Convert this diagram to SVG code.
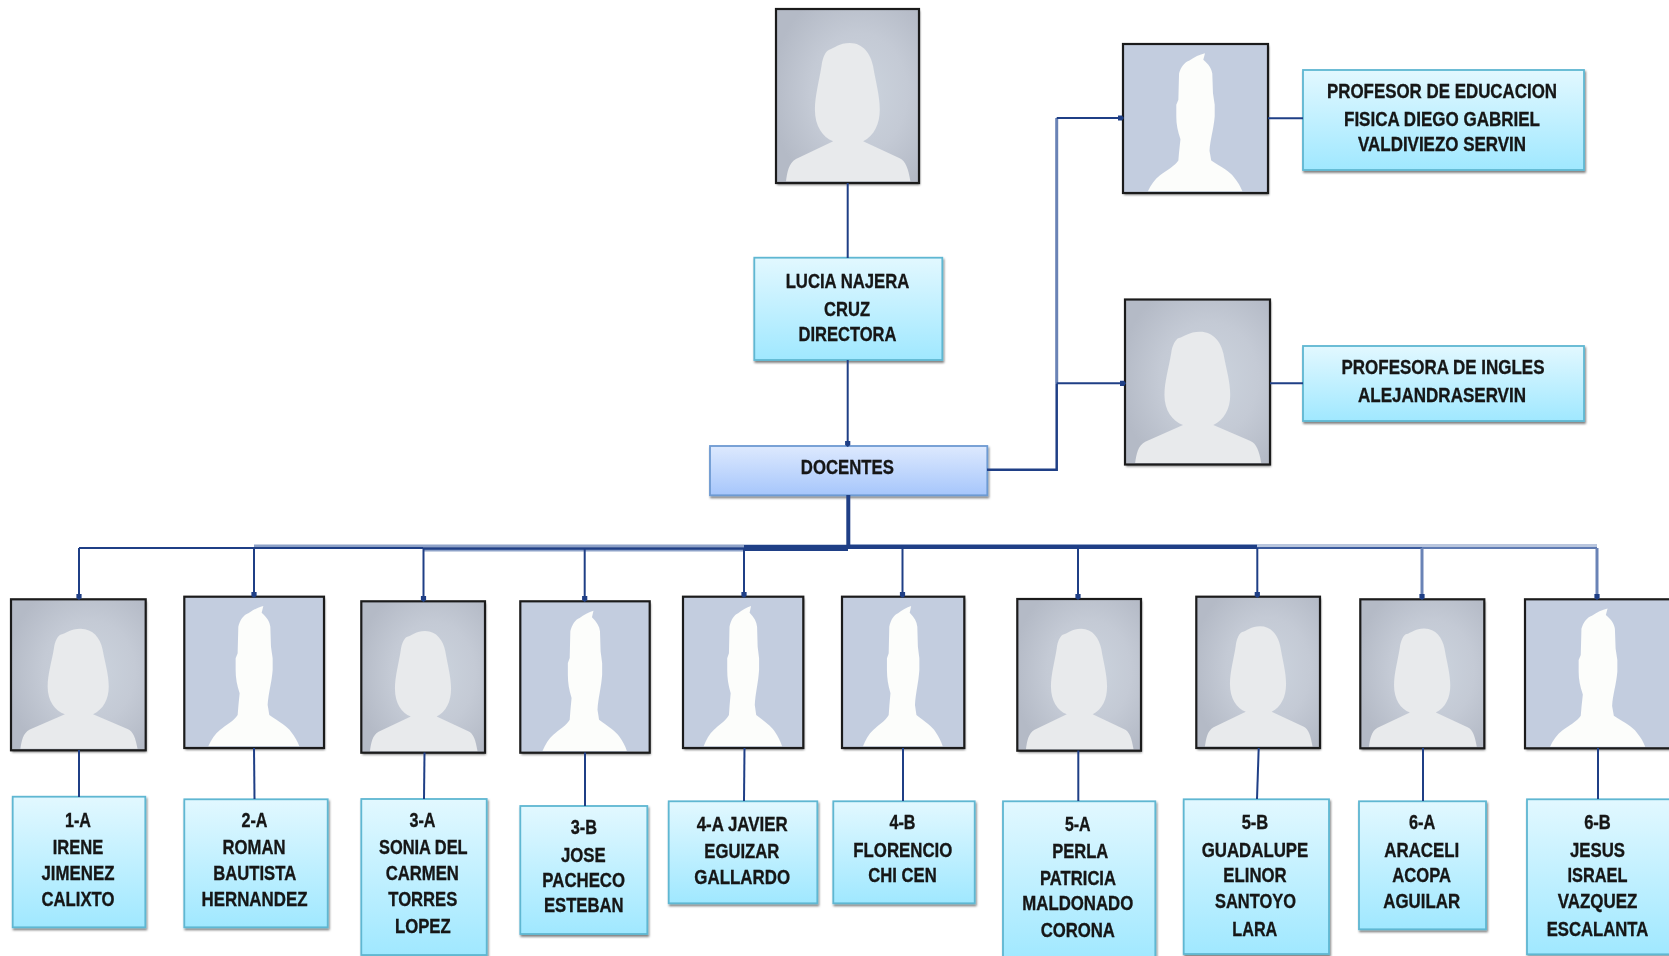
<svg xmlns="http://www.w3.org/2000/svg" width="1669" height="956" viewBox="0 0 1669 956">
<style>
.c{fill:none;stroke:#1f3f86;stroke-width:2}
.a{marker-end:url(#ah)}
.pale{stroke:#6a83b6;stroke-width:3}
.halo{fill:none;stroke:#8ea2c8;stroke-width:3}
.halo2{fill:none;stroke:#b9c6de;stroke-width:3}
.frame{fill:none;stroke:#1b1b1b;stroke-width:2.200}
.box{fill:url(#bg);stroke:#5fb7d2;stroke-width:1.800;filter:url(#s)}
.boxb{fill:url(#bb);stroke:#6d9ad2;stroke-width:1.800;filter:url(#s)}
.shade{fill:#fff;filter:url(#s)}
text{font-family:"Liberation Sans",Arial,sans-serif;font-size:21px;font-weight:bold;fill:#141414;stroke:#141414;stroke-width:.35px;text-anchor:middle;filter:url(#t);transform:translateY(-.8px)}
</style>
<defs>
<filter id="s" x="-10%" y="-10%" width="120%" height="120%"><feDropShadow dx="1" dy="2" stdDeviation="1.300" flood-color="#000" flood-opacity=".5"/></filter>
<filter id="t" x="-5%" y="-20%" width="110%" height="140%"><feGaussianBlur stdDeviation=".55"/></filter>
<filter id="sb"><feGaussianBlur stdDeviation=".9"/></filter>
<linearGradient id="bg" x1="0" y1="0" x2="0" y2="1"><stop offset="0" stop-color="#e2f8ff"/><stop offset="1" stop-color="#a0e8ff"/></linearGradient>
<linearGradient id="bb" x1="0" y1="0" x2="0" y2="1"><stop offset="0" stop-color="#dde9fe"/><stop offset="1" stop-color="#a6c6fb"/></linearGradient>
<radialGradient id="fg" cx=".58" cy=".48" r=".62"><stop offset="0" stop-color="#ccd4de"/><stop offset=".55" stop-color="#c4cad5"/><stop offset="1" stop-color="#b4bac6"/></radialGradient>
<marker id="ah" markerUnits="userSpaceOnUse" markerWidth="8" markerHeight="8" viewBox="-4 -4 8 8" refX="2" refY="0" orient="auto"><path d="M-3 -2.600L1 -2.600L3 0L1 2.600L-3 2.600Z" fill="#1f3f86"/></marker>
<symbol id="fem" viewBox="0 0 430 522" preserveAspectRatio="none">
<rect width="430" height="522" fill="url(#fg)"/>
<path filter="url(#sb)" fill="#e8eaec" d="M160 122C175 118 190 102 222 102C262 102 285 135 292 172C300 220 312 260 312 302C312 345 295 380 262 397L372 448C390 456 398 480 404 517L30 517C34 490 38 462 60 450L172 397C140 385 117 350 117 302C117 260 130 215 137 170C140 145 150 125 160 122Z"/>
</symbol>
<symbol id="mal" viewBox="0 0 419 454" preserveAspectRatio="none">
<rect width="419" height="454" fill="#c3cddf"/>
<path filter="url(#sb)" fill="#fcfdfb" d="M237 28L232 48C248 62 256 75 258 90L260 150L265 185L265 220C262 260 252 290 250 325L255 355C285 375 310 390 320 405C332 420 340 435 345 449L72 449C80 430 92 412 107 400C125 385 150 372 160 355L162 330L166 290C158 265 154 245 154 220L154 185L160 170L162 90C167 70 178 55 192 50C205 40 222 32 237 28Z"/>
</symbol>
</defs>
<rect width="1669" height="956" fill="#fff"/>

<g id="portrait-directora"><rect class="shade" x="776" y="9" width="143" height="174"/><use href="#fem" x="776" y="9" width="143" height="174"/><rect class="frame" x="776" y="9" width="143" height="174"/></g>
<g id="portrait-educacion"><rect class="shade" x="1123" y="44" width="145" height="149"/><use href="#mal" x="1123" y="44" width="145" height="149"/><rect class="frame" x="1123" y="44" width="145" height="149"/></g>
<g id="portrait-ingles"><rect class="shade" x="1125" y="299.500" width="145" height="165"/><use href="#fem" x="1125" y="299.500" width="145" height="165"/><rect class="frame" x="1125" y="299.500" width="145" height="165"/></g>
<g id="portrait-1a"><rect class="shade" x="11" y="599.300" width="134.700" height="151"/><use href="#fem" x="11" y="599.300" width="134.700" height="151"/><rect class="frame" x="11" y="599.300" width="134.700" height="151"/></g>
<g id="portrait-2a"><rect class="shade" x="184.300" y="596.700" width="139.700" height="151.300"/><use href="#mal" x="184.300" y="596.700" width="139.700" height="151.300"/><rect class="frame" x="184.300" y="596.700" width="139.700" height="151.300"/></g>
<g id="portrait-3a"><rect class="shade" x="361.300" y="601.300" width="123.700" height="151.400"/><use href="#fem" x="361.300" y="601.300" width="123.700" height="151.400"/><rect class="frame" x="361.300" y="601.300" width="123.700" height="151.400"/></g>
<g id="portrait-3b"><rect class="shade" x="520.300" y="601.300" width="129.400" height="151.400"/><use href="#mal" x="520.300" y="601.300" width="129.400" height="151.400"/><rect class="frame" x="520.300" y="601.300" width="129.400" height="151.400"/></g>
<g id="portrait-4a"><rect class="shade" x="683" y="596.700" width="120.300" height="151.300"/><use href="#mal" x="683" y="596.700" width="120.300" height="151.300"/><rect class="frame" x="683" y="596.700" width="120.300" height="151.300"/></g>
<g id="portrait-4b"><rect class="shade" x="842" y="596.700" width="122.300" height="151.300"/><use href="#mal" x="842" y="596.700" width="122.300" height="151.300"/><rect class="frame" x="842" y="596.700" width="122.300" height="151.300"/></g>
<g id="portrait-5a"><rect class="shade" x="1017.300" y="599" width="123.700" height="151.700"/><use href="#fem" x="1017.300" y="599" width="123.700" height="151.700"/><rect class="frame" x="1017.300" y="599" width="123.700" height="151.700"/></g>
<g id="portrait-5b"><rect class="shade" x="1196.300" y="596.700" width="123.700" height="151.300"/><use href="#fem" x="1196.300" y="596.700" width="123.700" height="151.300"/><rect class="frame" x="1196.300" y="596.700" width="123.700" height="151.300"/></g>
<g id="portrait-6a"><rect class="shade" x="1360.300" y="599.300" width="124" height="149"/><use href="#fem" x="1360.300" y="599.300" width="124" height="149"/><rect class="frame" x="1360.300" y="599.300" width="124" height="149"/></g>
<g id="portrait-6b"><rect class="shade" x="1525" y="599.300" width="150" height="149"/><use href="#mal" x="1525" y="599.300" width="146" height="149"/><rect class="frame" x="1525" y="599.300" width="150" height="149"/></g>

<g id="node-directora"><rect class="box" x="754.300" y="257.700" width="188" height="102.300"/>
<text x="847.500" y="289" textLength="123.700" lengthAdjust="spacingAndGlyphs">LUCIA NAJERA</text>
<text x="847" y="316.700" textLength="46" lengthAdjust="spacingAndGlyphs">CRUZ</text>
<text x="847.500" y="342.300" textLength="98" lengthAdjust="spacingAndGlyphs">DIRECTORA</text></g>
<g id="node-docentes"><rect class="boxb" x="710" y="446" width="277.300" height="49.300"/>
<text x="847.300" y="475" textLength="93" lengthAdjust="spacingAndGlyphs">DOCENTES</text></g>
<g id="node-educacion"><rect class="box" x="1303" y="70" width="281" height="100"/>
<text x="1442" y="99" textLength="230" lengthAdjust="spacingAndGlyphs">PROFESOR DE EDUCACION</text>
<text x="1442" y="126.700" textLength="196" lengthAdjust="spacingAndGlyphs">FISICA DIEGO GABRIEL</text>
<text x="1442" y="152.300" textLength="168" lengthAdjust="spacingAndGlyphs">VALDIVIEZO SERVIN</text></g>
<g id="node-ingles"><rect class="box" x="1303" y="346" width="281" height="75"/>
<text x="1443" y="375" textLength="203" lengthAdjust="spacingAndGlyphs">PROFESORA DE INGLES</text>
<text x="1442" y="402.700" textLength="168" lengthAdjust="spacingAndGlyphs">ALEJANDRASERVIN</text></g>
<g id="node-1a"><rect class="box" x="12.700" y="796.700" width="132.600" height="130.600"/>
<text x="78" y="828" textLength="26" lengthAdjust="spacingAndGlyphs">1-A</text>
<text x="78" y="855.300" textLength="50.600" lengthAdjust="spacingAndGlyphs">IRENE</text>
<text x="78" y="881" textLength="73" lengthAdjust="spacingAndGlyphs">JIMENEZ</text>
<text x="78" y="906.700" textLength="73" lengthAdjust="spacingAndGlyphs">CALIXTO</text></g>
<g id="node-2a"><rect class="box" x="184.300" y="799.300" width="143.400" height="128"/>
<text x="254.500" y="828" textLength="26" lengthAdjust="spacingAndGlyphs">2-A</text>
<text x="254" y="855.300" textLength="63" lengthAdjust="spacingAndGlyphs">ROMAN</text>
<text x="254.700" y="881" textLength="83" lengthAdjust="spacingAndGlyphs">BAUTISTA</text>
<text x="254.500" y="906.700" textLength="106" lengthAdjust="spacingAndGlyphs">HERNANDEZ</text></g>
<g id="node-3a"><rect class="box" x="361.300" y="799" width="125.400" height="156"/>
<text x="422.500" y="828" textLength="26" lengthAdjust="spacingAndGlyphs">3-A</text>
<text x="423.300" y="855.300" textLength="88.700" lengthAdjust="spacingAndGlyphs">SONIA DEL</text>
<text x="422.300" y="881" textLength="73.300" lengthAdjust="spacingAndGlyphs">CARMEN</text>
<text x="422.800" y="906.700" textLength="69" lengthAdjust="spacingAndGlyphs">TORRES</text>
<text x="422.800" y="934.300" textLength="55.700" lengthAdjust="spacingAndGlyphs">LOPEZ</text></g>
<g id="node-3b"><rect class="box" x="520.300" y="806" width="127" height="128"/>
<text x="583.800" y="835" textLength="26.300" lengthAdjust="spacingAndGlyphs">3-B</text>
<text x="583.300" y="862.700" textLength="44.700" lengthAdjust="spacingAndGlyphs">JOSE</text>
<text x="583.700" y="887.700" textLength="82.700" lengthAdjust="spacingAndGlyphs">PACHECO</text>
<text x="583.800" y="913.300" textLength="79.700" lengthAdjust="spacingAndGlyphs">ESTEBAN</text></g>
<g id="node-4a"><rect class="box" x="668.700" y="801.300" width="148.600" height="102"/>
<text x="742.200" y="831.700" textLength="91" lengthAdjust="spacingAndGlyphs">4-A JAVIER</text>
<text x="741.800" y="859.300" textLength="75" lengthAdjust="spacingAndGlyphs">EGUIZAR</text>
<text x="742.200" y="885.300" textLength="95.700" lengthAdjust="spacingAndGlyphs">GALLARDO</text></g>
<g id="node-4b"><rect class="box" x="833.300" y="801.300" width="141.400" height="102"/>
<text x="902.500" y="830" textLength="26" lengthAdjust="spacingAndGlyphs">4-B</text>
<text x="902.800" y="857.700" textLength="99" lengthAdjust="spacingAndGlyphs">FLORENCIO</text>
<text x="902.500" y="883.300" textLength="68.300" lengthAdjust="spacingAndGlyphs">CHI CEN</text></g>
<g id="node-5a"><rect class="box" x="1003" y="801.300" width="152.300" height="160"/>
<text x="1077.800" y="832.300" textLength="25.700" lengthAdjust="spacingAndGlyphs">5-A</text>
<text x="1080.300" y="859.300" textLength="56" lengthAdjust="spacingAndGlyphs">PERLA</text>
<text x="1078" y="885.700" textLength="76" lengthAdjust="spacingAndGlyphs">PATRICIA</text>
<text x="1077.800" y="911" textLength="111" lengthAdjust="spacingAndGlyphs">MALDONADO</text>
<text x="1077.800" y="938.300" textLength="74.300" lengthAdjust="spacingAndGlyphs">CORONA</text></g>
<g id="node-5b"><rect class="box" x="1183.700" y="799.300" width="145.300" height="154.700"/>
<text x="1255" y="830" textLength="26.700" lengthAdjust="spacingAndGlyphs">5-B</text>
<text x="1255" y="857.700" textLength="106.700" lengthAdjust="spacingAndGlyphs">GUADALUPE</text>
<text x="1255" y="883.300" textLength="63.300" lengthAdjust="spacingAndGlyphs">ELINOR</text>
<text x="1255.500" y="909" textLength="81" lengthAdjust="spacingAndGlyphs">SANTOYO</text>
<text x="1254.800" y="936.700" textLength="45" lengthAdjust="spacingAndGlyphs">LARA</text></g>
<g id="node-6a"><rect class="box" x="1359" y="801.300" width="127" height="128"/>
<text x="1422.200" y="830" textLength="26.300" lengthAdjust="spacingAndGlyphs">6-A</text>
<text x="1421.800" y="857.700" textLength="75" lengthAdjust="spacingAndGlyphs">ARACELI</text>
<text x="1421.700" y="883.300" textLength="58.700" lengthAdjust="spacingAndGlyphs">ACOPA</text>
<text x="1421.700" y="909" textLength="76.700" lengthAdjust="spacingAndGlyphs">AGUILAR</text></g>
<g id="node-6b"><rect class="box" x="1527" y="799.300" width="144" height="155"/>
<text x="1597.500" y="830" textLength="26.700" lengthAdjust="spacingAndGlyphs">6-B</text>
<text x="1597.500" y="857.700" textLength="55" lengthAdjust="spacingAndGlyphs">JESUS</text>
<text x="1597.500" y="883.300" textLength="60" lengthAdjust="spacingAndGlyphs">ISRAEL</text>
<text x="1597.500" y="909" textLength="79.700" lengthAdjust="spacingAndGlyphs">VAZQUEZ</text>
<text x="1597.500" y="936.700" textLength="101.700" lengthAdjust="spacingAndGlyphs">ESCALANTA</text></g>

<g id="connectors">
<path class="c" d="M847.700 183V258"/>
<path class="c a" d="M847.700 360V446"/>
<path class="c" style="stroke-width:2.500" d="M987 469.700H1056.700V383.300"/>
<path class="c pale" d="M1056.700 383.300V118"/>
<path class="c a" d="M1056.700 118H1123"/>
<path class="c a" d="M1056.700 383.300H1125"/>
<path class="c" d="M1268 118.300H1303"/>
<path class="c" d="M1270 383.300H1303"/>
<path class="halo" d="M254 546H848"/>
<path class="halo" d="M848 545.500H1257"/>
<path class="halo2" d="M1257 545.500H1597"/>
<path class="halo" d="M423 550H744"/>
<path class="c" style="stroke-width:6" d="M744 548H848"/>
<path class="c" style="stroke-width:4" d="M848 547H1257"/>
<path class="c" style="stroke-width:2.500" d="M423 548.500H744"/>
<path class="c" d="M79 548H423"/>
<path class="c" style="stroke:#3b5a9c" d="M1257 548H1422"/>
<path class="c" style="stroke:#5f7bb2" d="M1422 548H1597"/>
<path class="c" style="stroke-width:4" d="M848.300 495V547"/>
<path class="c a" d="M79 548V599"/>
<path class="c a" d="M254 548V597"/>
<path class="c a" d="M423.500 549V601"/>
<path class="c a" d="M584.700 549V601"/>
<path class="c a" d="M744 549V597"/>
<path class="c a" d="M902.500 548V597"/>
<path class="c a" d="M1078 548V599"/>
<path class="c a" d="M1257.300 548V597"/>
<path class="c pale a" d="M1422 548V599"/>
<path class="c pale a" d="M1597 548V599"/>
<path class="c" d="M79 750V797"/>
<path class="c" d="M254 748L254.500 799"/>
<path class="c" d="M424.500 752.500L424 799"/>
<path class="c" d="M585 752.500V806"/>
<path class="c" d="M744.500 748L744 801"/>
<path class="c" d="M903 748V801"/>
<path class="c" d="M1078.300 750.500V801"/>
<path class="c" d="M1258.700 748L1257 799"/>
<path class="c" d="M1423 748V801"/>
<path class="c" d="M1598 748V799"/>
</g>
</svg>
